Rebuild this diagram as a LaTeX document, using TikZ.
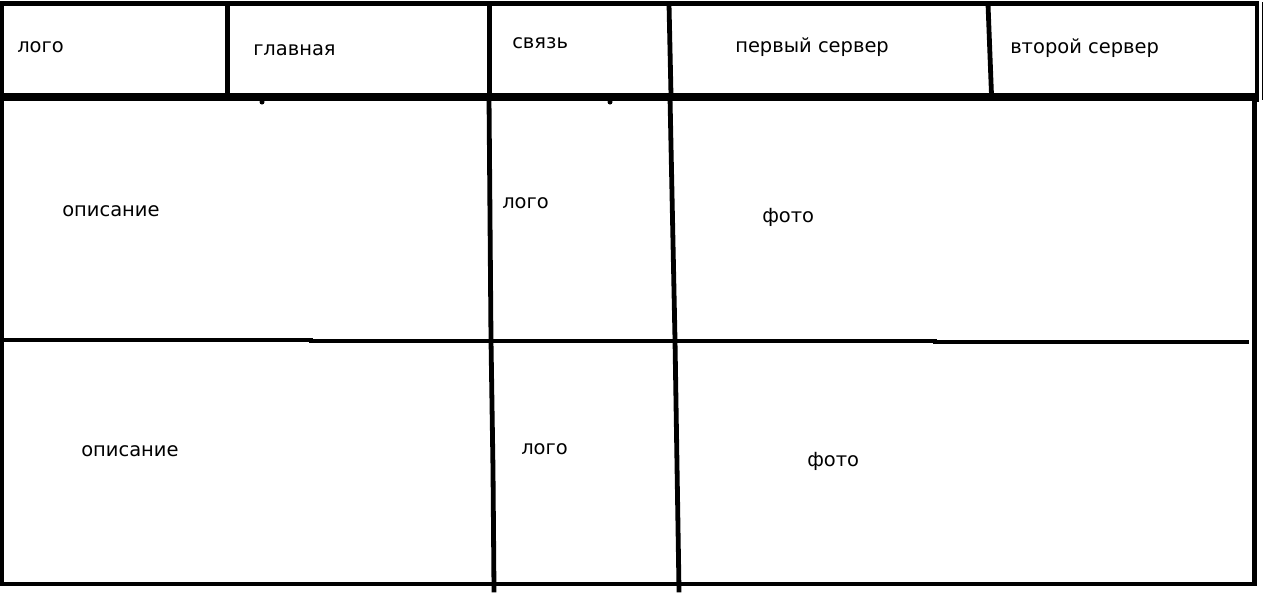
\documentclass[tikz,border=0pt]{standalone}
\usepackage{fontspec}
\setmainfont{DejaVu Sans}
\tikzset{
    frame line/.style={
        draw=black,
        line width=3.6pt,
        line cap=rect
    },
    header rule/.style={
        draw=black,
        line width=5.4pt
    },
    thin rule/.style={
        draw=black,
        line width=0.8pt
    },
    label text/.style={
        anchor=base west,
        inner sep=0pt,
        font=\fontsize{14.6}{17}\selectfont
    }
}
\begin{document}
\begin{tikzpicture}[x=0.75pt, y=-0.75pt]

    \useasboundingbox[fill=white] (0,0) rectangle (1274,608);

    % -------------------------------------------------------------------------
    % Header bar with the menu cells.
    % -------------------------------------------------------------------------
    \draw[frame line] (2,3.5) -- (1257,3.5);
    \draw[frame line] (2,3.5) -- (2,97);
    \draw[frame line] (1257,3.5) -- (1257,100);
    \draw[thin rule] (1262.5,2) -- (1262.5,100);
    \draw[header rule] (0,97) -- (1259,97);

    \draw[frame line] (227.5,4) -- (227.5,95);
    \draw[frame line] (489.5,4) -- (489.5,95);
    \draw[frame line] (669,4) -- (671,95);
    \draw[frame line] (988,4) -- (991.5,95);

    \node[label text] (logohead) at (17,52) {лого};
    \node[label text] (mainpage) at (253,55) {главная};
    \node[label text] (contact) at (512,48) {связь};
    \node[label text] (serverone) at (735,52) {первый сервер};
    \node[label text] (servertwo) at (1010,53) {второй сервер};

    % -------------------------------------------------------------------------
    % Body grid: two rows of description, logo and photo.
    % -------------------------------------------------------------------------
    \draw[frame line] (2,97) -- (2,584) -- (1254.5,584) -- (1254.5,97);
    \draw[frame line] (0,340) -- (311,340);
    \draw[frame line] (311,341) -- (935,341);
    \draw[frame line] (935,342) -- (1247,342);

    \draw[frame line] (489,97) -- (491,340) -- (493,470) -- (494,590);
    \draw[frame line] (670,97) -- (675,340) -- (679,590);

    \fill (262,102) circle (2.5);
    \fill (610,102) circle (2.5);

    \node[label text] (descone) at (62,216) {описание};
    \node[label text] (logoone) at (502,208) {лого};
    \node[label text] (photoone) at (762,222) {фото};

    \node[label text] (desctwo) at (81,456) {описание};
    \node[label text] (logotwo) at (521,454) {лого};
    \node[label text] (phototwo) at (807,466) {фото};

\end{tikzpicture}
\end{document}
